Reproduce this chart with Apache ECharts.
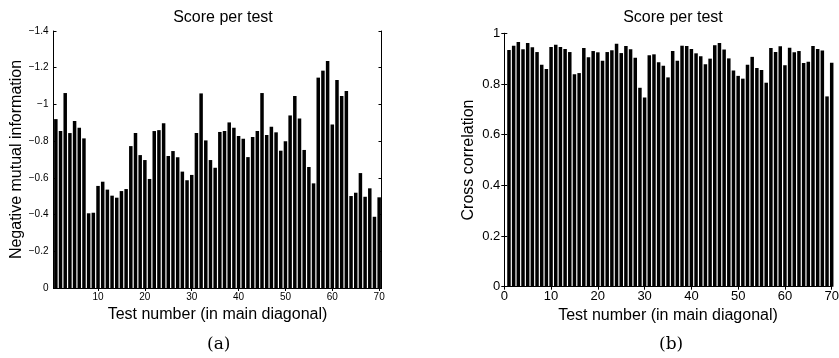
<!DOCTYPE html>
<html>
<head>
<meta charset="utf-8">
<script src="https://cdn.jsdelivr.net/npm/echarts@6/dist/echarts.min.js"></script>
<style>
  html, body { margin: 0; padding: 0; background: #fff; }
  #chart { width: 839px; height: 358px; }
</style>
</head>
<body>
<div id="chart"></div>
<script>
// Negative mutual information per test (panel a)
const negMutualInfo = [
  -0.920, -0.855, -1.062, -0.844, -0.910, -0.873, -0.815, -0.407, -0.410, -0.556,
  -0.579, -0.536, -0.503, -0.492, -0.528, -0.539, -0.773, -0.844, -0.724, -0.697,
  -0.594, -0.855, -0.860, -0.897, -0.719, -0.746, -0.712, -0.634, -0.587, -0.616,
  -0.844, -1.060, -0.804, -0.697, -0.655, -0.850, -0.855, -0.902, -0.873, -0.828,
  -0.813, -0.713, -0.822, -0.855, -1.062, -0.833, -0.879, -0.848, -0.748, -0.799,
  -0.940, -1.046, -0.924, -0.752, -0.659, -0.570, -1.146, -1.184, -1.236, -0.891,
  -1.133, -1.046, -1.073, -0.501, -0.519, -0.626, -0.497, -0.543, -0.388, -0.494
];

// Cross correlation per test (panel b)
const crossCorrelation = [
  0.934, 0.951, 0.966, 0.937, 0.962, 0.945, 0.926, 0.876, 0.859, 0.946,
  0.955, 0.946, 0.938, 0.926, 0.838, 0.843, 0.942, 0.905, 0.930, 0.925,
  0.892, 0.926, 0.933, 0.959, 0.922, 0.950, 0.937, 0.904, 0.785, 0.747,
  0.913, 0.917, 0.886, 0.872, 0.826, 0.930, 0.892, 0.951, 0.950, 0.938,
  0.921, 0.909, 0.878, 0.900, 0.953, 0.962, 0.936, 0.901, 0.853, 0.832,
  0.821, 0.876, 0.907, 0.863, 0.855, 0.805, 0.942, 0.926, 0.949, 0.874,
  0.943, 0.925, 0.930, 0.883, 0.888, 0.950, 0.938, 0.932, 0.751, 0.884
];

// Tick values
const leftXTicks = [10, 20, 30, 40, 50, 60, 70];
const rightXTicks = [0, 10, 20, 30, 40, 50, 60, 70];

const titleText = 'Score per test';
const xAxisTitle = 'Test number (in main diagonal)';
const leftYAxisTitle = 'Negative mutual information';
const rightYAxisTitle = 'Cross correlation';
const panelLabels = ['(a)', '(b)'];

const toPoints = arr => arr.map((v, i) => [i + 1, v]);
const fmtNum = v => {
  if (Math.abs(v) < 1e-9) return '0';
  const r = Math.round(v * 10) / 10;
  const s = Number.isInteger(r) ? String(Math.abs(r)) : Math.abs(r).toFixed(1);
  return (r < 0 ? '\u2212' : '') + s;
};

const FONT = 'Liberation Sans, Arial, Helvetica, sans-serif';
const lineStyle = { color: '#000', width: 1 };
const tickIn = { show: true, inside: true, length: 3, lineStyle: { color: '#000', width: 1 } };

const chart = echarts.init(document.getElementById('chart'), null, { renderer: 'canvas' });

chart.setOption({
  backgroundColor: '#fff',
  animation: false,
  title: [
    { text: titleText, left: 218, top: 5, textAlign: 'center',
      textStyle: { fontFamily: FONT, fontSize: 16, fontWeight: 'normal', color: '#000' } },
    { text: titleText, left: 668, top: 5, textAlign: 'center',
      textStyle: { fontFamily: FONT, fontSize: 16, fontWeight: 'normal', color: '#000' } }
  ],
  grid: [
    { left: 53.5, top: 31, width: 328, height: 257, outerBoundsMode: 'none', containLabel: false },
    { left: 504.3, top: 33.3, width: 327.4, height: 253.4, outerBoundsMode: 'none', containLabel: false }
  ],
  xAxis: [
    { gridIndex: 0, type: 'value', min: 0.5, max: 70.5, position: 'bottom',
      axisLine: { show: true, lineStyle }, splitLine: { show: false },
      axisTick: Object.assign({}, tickIn, { customValues: leftXTicks }),
      axisLabel: { customValues: leftXTicks, color: '#000', fontFamily: FONT, fontSize: 10, margin: 4 },
      name: xAxisTitle, nameLocation: 'middle', nameGap: 17,
      nameTextStyle: { fontFamily: FONT, fontSize: 16, color: '#000' } },
    { gridIndex: 0, type: 'value', min: 0.5, max: 70.5, position: 'top',
      axisLine: { show: true, lineStyle }, splitLine: { show: false },
      axisTick: Object.assign({}, tickIn, { customValues: leftXTicks }),
      axisLabel: { show: false } },
    { gridIndex: 1, type: 'value', min: 0, max: 70, interval: 10, position: 'bottom',
      axisLine: { show: true, lineStyle }, splitLine: { show: false },
      axisTick: Object.assign({}, tickIn, { customValues: rightXTicks }),
      axisLabel: { customValues: rightXTicks, color: '#000', fontFamily: FONT, fontSize: 13, margin: 3 },
      name: xAxisTitle, nameLocation: 'middle', nameGap: 18,
      nameTextStyle: { fontFamily: FONT, fontSize: 16, color: '#000' } },
    { gridIndex: 1, type: 'value', min: 0, max: 70, interval: 10, position: 'top',
      axisLine: { show: true, lineStyle }, splitLine: { show: false },
      axisTick: tickIn, axisLabel: { show: false } }
  ],
  yAxis: [
    { gridIndex: 0, type: 'value', min: -1.4, max: 0, interval: 0.2, inverse: true, position: 'left',
      axisLine: { show: true, lineStyle }, splitLine: { show: false }, axisTick: tickIn,
      axisLabel: { color: '#000', fontFamily: FONT, fontSize: 10, margin: 5, formatter: fmtNum },
      name: leftYAxisTitle, nameLocation: 'middle', nameGap: 26,
      nameTextStyle: { fontFamily: FONT, fontSize: 16, color: '#000' } },
    { gridIndex: 0, type: 'value', min: -1.4, max: 0, interval: 0.2, inverse: true, position: 'right',
      axisLine: { show: true, lineStyle }, splitLine: { show: false }, axisTick: tickIn,
      axisLabel: { show: false } },
    { gridIndex: 1, type: 'value', min: 0, max: 1, interval: 0.2, position: 'left',
      axisLine: { show: true, lineStyle }, splitLine: { show: false }, axisTick: tickIn,
      axisLabel: { color: '#000', fontFamily: FONT, fontSize: 13, margin: 4, formatter: fmtNum },
      name: rightYAxisTitle, nameLocation: 'middle', nameGap: 28,
      nameTextStyle: { fontFamily: FONT, fontSize: 16, color: '#000' } },
    { gridIndex: 1, type: 'value', min: 0, max: 1, interval: 0.2, position: 'right',
      axisLine: { show: true, lineStyle }, splitLine: { show: false }, axisTick: tickIn,
      axisLabel: { show: false } }
  ],
  series: [
    { type: 'bar', xAxisIndex: 0, yAxisIndex: 0, data: toPoints(negMutualInfo),
      barWidth: 3.5, itemStyle: { color: '#000' }, clip: true, silent: true },
    { type: 'bar', xAxisIndex: 2, yAxisIndex: 2, data: toPoints(crossCorrelation),
      barWidth: 3.5, itemStyle: { color: '#000' }, clip: true, silent: true }
  ],
  graphic: [
    { type: 'text', left: 207, top: 336,
      style: { text: panelLabels[0], font: '17px "DejaVu Serif", "Liberation Serif", serif', fill: '#000' } },
    { type: 'text', left: 659, top: 336,
      style: { text: panelLabels[1], font: '17px "DejaVu Serif", "Liberation Serif", serif', fill: '#000' } }
  ]
});
</script>
</body>
</html>
